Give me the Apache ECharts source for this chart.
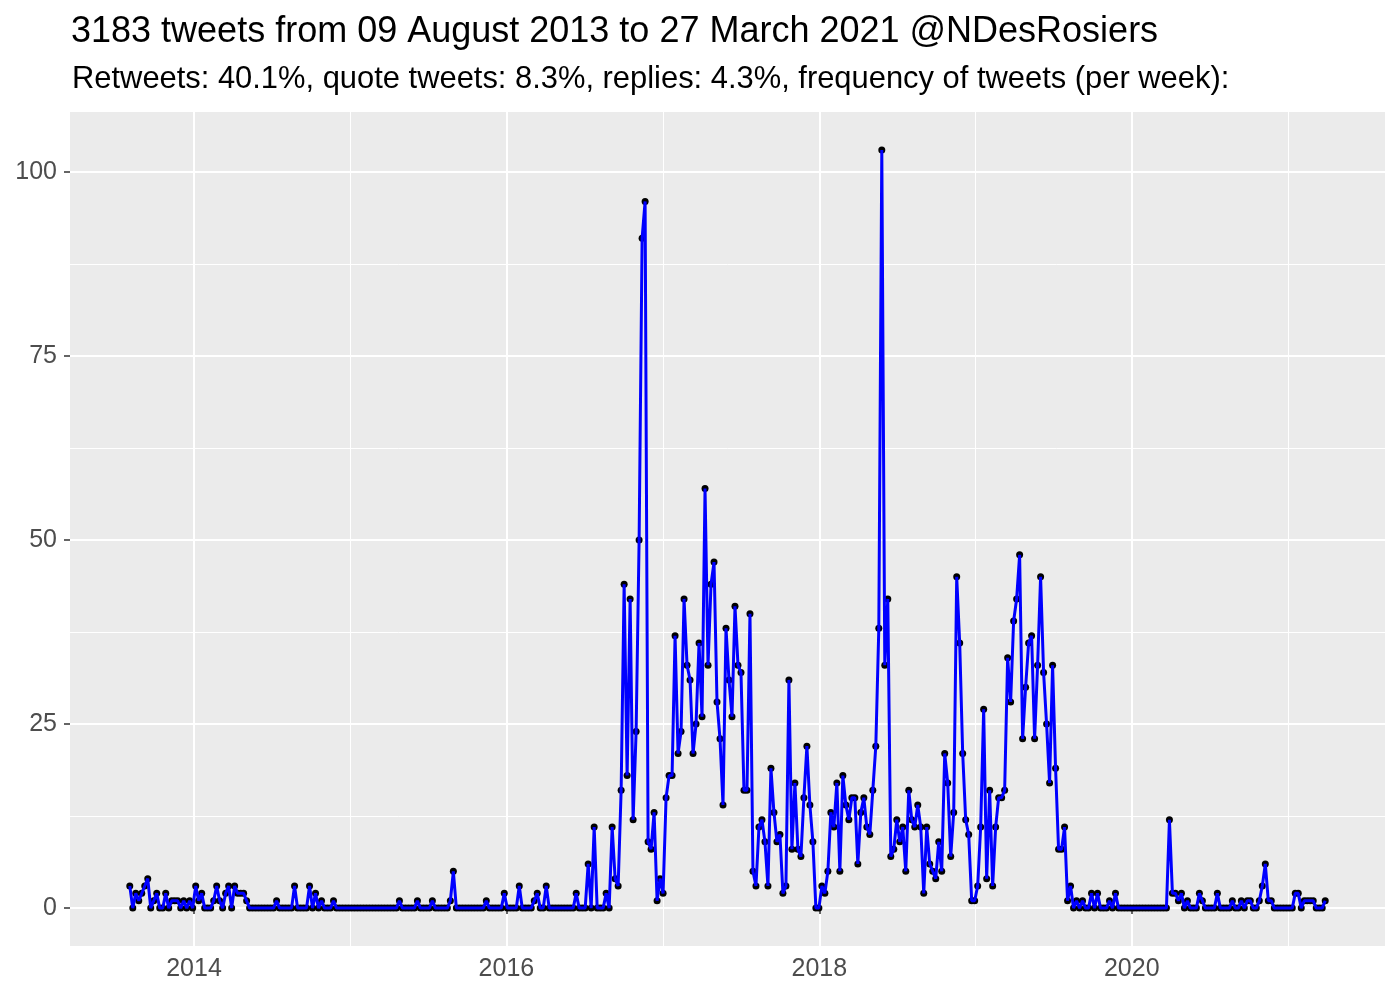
<!DOCTYPE html>
<html><head><meta charset="utf-8">
<script src="https://cdn.jsdelivr.net/npm/echarts@6/dist/echarts.min.js"></script>
<style>html,body{margin:0;padding:0;background:#fff}#c{width:1400px;height:1000px}</style>
</head><body><div id="c"></div>
<script>
const TITLE = '3183 tweets from 09 August 2013 to 27 March 2021 @NDesRosiers';
const SUBTITLE = 'Retweets: 40.1%, quote tweets: 8.3%, replies: 4.3%, frequency of tweets (per week):';
const FIRST_WEEK = [2013, 8, 4];   // year, month, day of first weekly bin
const WEEKLY_TWEETS = [
  3,0,2,1,2,3,4,0,1,2,  0,0,2,0,1,1,1,0,1,0,  1,0,3,1,2,0,0,0,1,3,  1,0,2,3,0,3,2,2,2,1,
  0,0,0,0,0,0,0,0,0,1,  0,0,0,0,0,3,0,0,0,0,  3,0,2,0,1,0,0,0,1,0,  0,0,0,0,0,0,0,0,0,0,
  0,0,0,0,0,0,0,0,0,0,  1,0,0,0,0,0,1,0,0,0,  0,1,0,0,0,0,0,1,5,0,  0,0,0,0,0,0,0,0,0,1,
  0,0,0,0,0,2,0,0,0,0,  3,0,0,0,0,1,2,0,0,3,  0,0,0,0,0,0,0,0,0,2,  0,0,0,6,0,11,0,0,0,2,
  0,11,4,3,16,44,18,42,12,24,  50,91,96,9,8,13,1,4,2,15,  18,18,37,21,24,42,33,31,21,25,
  36,26,57,33,44,47,28,23,14,38,  31,26,41,33,32,16,16,40,5,3,  11,12,9,3,19,13,9,10,2,3,
  31,8,17,8,7,15,22,14,9,0,  0,3,2,5,13,11,17,5,18,14,  12,15,15,6,13,15,11,10,16,22,
  38,103,33,42,7,8,12,9,11,5,  16,12,11,14,11,2,11,6,5,4,  9,5,21,17,7,13,45,36,21,12,
  10,1,1,3,11,27,4,16,3,11,  15,15,16,34,28,39,42,48,23,30,  36,37,23,33,45,32,25,17,33,19,
  8,8,11,1,3,0,1,0,1,0,  0,2,0,2,0,0,0,1,0,2,  0,0,0,0,0,0,0,0,0,0,  0,0,0,0,0,0,0,12,2,2,
  1,2,0,1,0,0,0,2,1,0,  0,0,0,2,0,0,0,0,1,0,  0,1,0,1,1,0,0,1,3,6,  1,1,0,0,0,0,0,0,0,2,
  2,0,1,1,1,1,0,0,0,1
];
const X_MAJOR_YEARS = [2014, 2016, 2018, 2020];
const X_MINOR_YEARS = [2013, 2015, 2017, 2019, 2021];
const Y_MAJOR = [0, 25, 50, 75, 100];
const Y_MINOR = [12.5, 37.5, 62.5, 87.5];

const DAY = 86400000;
const t0 = Date.UTC(FIRST_WEEK[0], FIRST_WEEK[1] - 1, FIRST_WEEK[2]);
const points = WEEKLY_TWEETS.map((v, i) => [t0 + i * 7 * DAY, v]);
const tEnd = points[points.length - 1][0];
const span = tEnd - t0;
const xMin = t0 - 0.05 * span, xMax = tEnd + 0.05 * span;
const vMax = Math.max(...WEEKLY_TWEETS);
const yMin = -0.05 * vMax, yMax = vMax * 1.05;
const yr = y => Date.UTC(y, 0, 1);
const majorTs = X_MAJOR_YEARS.map(yr);
const minorTs = X_MINOR_YEARS.map(yr).filter(t => t > xMin && t < xMax);

const chart = echarts.init(document.getElementById('c'), null, {renderer: 'canvas'});
const FONT = '"Liberation Sans", Arial, Helvetica, sans-serif';
chart.setOption({
  animation: false,
  backgroundColor: '#ffffff',
  title: [
    {text: TITLE, left: 71, top: 12, padding: 0, textStyle: {fontFamily: FONT, fontSize: 36, fontWeight: 'normal', color: '#000', lineHeight: 40}},
    {text: SUBTITLE, left: 72, top: 62, padding: 0, textStyle: {fontFamily: FONT, fontSize: 30.9, fontWeight: 'normal', color: '#000', lineHeight: 34}}
  ],
  grid: {left: 70, right: 15, top: 112, bottom: 54, show: true, backgroundColor: '#EBEBEB', borderWidth: 0, containLabel: false},
  xAxis: [
    {type: 'value', min: xMin, max: xMax, position: 'bottom',
     axisLine: {show: false},
     axisTick: {show: true, customValues: majorTs, length: 6, lineStyle: {color: '#333333', width: 1.5}},
     axisLabel: {show: true, customValues: majorTs, formatter: v => String(new Date(v).getUTCFullYear()), color: '#4D4D4D', fontFamily: FONT, fontSize: 25, margin: 11},
     splitLine: {show: true, lineStyle: {color: '#FFFFFF', width: 2}}},
    {type: 'value', min: xMin, max: xMax, position: 'bottom',
     axisLine: {show: false}, axisTick: {show: false, customValues: minorTs}, axisLabel: {show: false, customValues: minorTs},
     splitLine: {show: true, lineStyle: {color: '#FFFFFF', width: 1}}}
  ],
  yAxis: [
    {type: 'value', min: yMin, max: yMax,
     axisLine: {show: false},
     axisTick: {show: true, customValues: Y_MAJOR, length: 6, lineStyle: {color: '#333333', width: 1.5}},
     axisLabel: {show: true, customValues: Y_MAJOR, color: '#4D4D4D', fontFamily: FONT, fontSize: 25, margin: 13},
     splitLine: {show: true, lineStyle: {color: '#FFFFFF', width: 2}}},
    {type: 'value', min: yMin, max: yMax, position: 'left',
     axisLine: {show: false}, axisTick: {show: false, customValues: Y_MINOR}, axisLabel: {show: false, customValues: Y_MINOR},
     splitLine: {show: true, lineStyle: {color: '#FFFFFF', width: 1}}}
  ],
  series: [
    {type: 'scatter', data: points, xAxisIndex: 0, yAxisIndex: 0, symbol: 'circle', symbolSize: 7,
     itemStyle: {color: '#000000', opacity: 1}, z: 2, silent: true},
    {type: 'line', data: points, xAxisIndex: 0, yAxisIndex: 0, showSymbol: false, symbol: 'none',
     lineStyle: {color: '#0000FF', width: 3}, z: 3, silent: true}
  ]
});
</script></body></html>
